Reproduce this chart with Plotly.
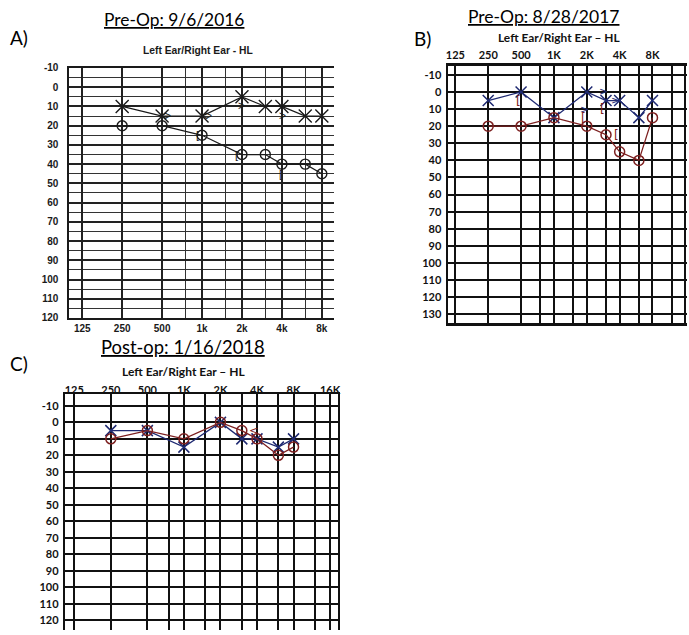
import math
import plotly.graph_objects as go

# ---------------- data ----------------
# test frequencies (Hz)
freqs = [250, 500, 1000, 2000, 3000, 4000, 6000, 8000]

# A) Pre-Op 9/6/2016 (dB HL)
a_right_air = [20, 20, 25, 35, 35, 40, 40, 45]
a_left_air = [10, 15, 15, 5, 10, 10, 15, 15]
a_left_bone_f = [500, 1000, 2000, 4000]
a_left_bone = [15, 15, 10, 15]
a_right_bone_f = [500, 1000]
a_right_bone = [15, 15]
a_right_bone_m_f = [1000, 2000, 4000]
a_right_bone_m = [25, 35, 45]

# B) Pre-Op 8/28/2017 (dB HL)
b_left_air = [5, 0, 15, 0, 5, 5, 15, 5]
b_right_air = [20, 20, 15, 20, 25, 35, 40, 15]
b_right_bone_m_f = [500, 2000, 3000, 4000]
b_right_bone_m = [5, 15, 10, 25]
b_left_bone_f = [2000, 3000, 4000]
b_left_bone = [10, 0, 5]

# C) Post-op 1/16/2018 (dB HL)
c_left_air = [5, 5, 15, 0, 10, 10, 15, 10]
c_right_air = [10, 5, 10, 0, 5, 10, 20, 15]
c_right_bone_f = [4000]
c_right_bone = [5]

# axis ticks
a_tick_f = [125, 250, 500, 1000, 2000, 4000, 8000]
a_tick_txt = ["125", "250", "500", "1k", "2k", "4k", "8k"]
a_mid_f = [750, 1500, 3000, 6000]
bc_tick_f = [125, 250, 500, 1000, 2000, 4000, 8000, 16000]
bc_tick_txt = ["125", "250", "500", "1K", "2K", "4K", "8K", "16K"]
bc_mid_f = [750, 1500, 3000, 6000, 12000]
a_db_ticks = list(range(-10, 121, 10))
b_db_ticks = list(range(-10, 131, 10))
c_db_ticks = list(range(-10, 121, 10))

# ---------------- style ----------------
W, H = 689, 635
BLUE = "#1f2a72"
RED = "#7d2020"
INK_A = "#1a1a1a"
CAL = "Lato, Open Sans, sans-serif"


def dom_x(left, right):
    return [left / W, right / W]


def dom_y(top, bottom):
    return [1 - bottom / H, 1 - top / H]


fig = go.Figure()


def air(x, y, color, sym, size, ax, lw):
    fig.add_trace(go.Scatter(
        x=x, y=y, mode="lines+markers", xaxis=ax[0], yaxis=ax[1],
        line=dict(color=color, width=lw),
        marker=dict(symbol=sym, size=size, color=color,
                    line=dict(color=color, width=lw + 0.2)),
        showlegend=False, hoverinfo="x+y"))


def bone(fs, dbs, glyph_txt, color, ax, shifts, size, family):
    # bone-conduction symbols drawn as text glyphs at (freq, dB)
    for f, db, dx in zip(fs, dbs, shifts):
        fig.add_annotation(x=math.log10(f), y=db, xref=ax[0], yref=ax[1],
                           text=glyph_txt, showarrow=False, xshift=dx,
                           xanchor="center", yanchor="middle",
                           font=dict(color=color, size=size, family=family))


# panel A
axA = ("x", "y")
air(freqs, a_left_air, INK_A, "x-thin-open", 13, axA, 1.2)
air(freqs, a_right_air, INK_A, "circle-open", 10, axA, 1.2)
bone(a_right_bone_f, a_right_bone, "<", INK_A, axA, [1, 2], 12, "Liberation Sans")
bone(a_left_bone_f, a_left_bone, ">", INK_A, axA, [5, 6, 0, 1], 12, "Liberation Sans")
bone(a_right_bone_m_f, a_right_bone_m, "[", INK_A, axA, [-5, -5, -1], 11, "Liberation Sans")

# panel B
axB = ("x2", "y2")
air(freqs, b_left_air, BLUE, "x-thin-open", 11, axB, 1.3)
air(freqs, b_right_air, RED, "circle-open", 10, axB, 1.3)
bone(b_right_bone_m_f, b_right_bone_m, "[", RED, axB, [-3, -3, -4, -3], 12, "DejaVu Sans")
bone(b_left_bone_f, b_left_bone, ">", BLUE, axB, [-2, -3, -4], 11, "DejaVu Sans")

# panel C
axC = ("x3", "y3")
air(freqs, c_left_air, BLUE, "x-thin-open", 11, axC, 1.3)
air(freqs, c_right_air, RED, "circle-open", 10, axC, 1.3)
bone(c_right_bone_f, c_right_bone, "<", RED, axC, [-3], 11, "DejaVu Sans")

A_TICK = dict(family="Liberation Sans, Arial", size=10, color="#1a1a1a", weight="bold")
BC_TICK = dict(family=CAL, size=11, color="#111", weight="bold")

fig.update_layout(
    width=W, height=H, margin=dict(l=0, r=0, t=0, b=0),
    paper_bgcolor="white", plot_bgcolor="white", showlegend=False,
    # ---- A ----
    xaxis=dict(domain=dom_x(67.7, 333.5), type="log", range=[1.9995, 3.9915],
               tickvals=a_tick_f, ticktext=a_tick_txt, side="bottom",
               showgrid=True, gridcolor="#222", gridwidth=1.6,
               minor=dict(tickvals=a_mid_f, showgrid=True, gridcolor="#333", gridwidth=1.2),
               showline=True, linecolor="#1a1a1a", linewidth=1.8, mirror=True,
               ticks="", tickfont=A_TICK, ticklabelstandoff=0,
               zeroline=False, fixedrange=True, anchor="y"),
    yaxis=dict(domain=dom_y(64, 318), range=[120, -10],
               tickvals=a_db_ticks, ticktext=[str(v) for v in a_db_ticks],
               showgrid=True, gridcolor="#222", gridwidth=1.6,
               minor=dict(dtick=5, tick0=0, showgrid=True, gridcolor="#333", gridwidth=1.2),
               showline=True, linecolor="#1a1a1a", linewidth=1.8, mirror=False,
               ticks="", tickfont=A_TICK, ticklabelstandoff=7,
               zeroline=False, fixedrange=True, anchor="x"),
    # ---- B ----
    xaxis2=dict(domain=dom_x(448.3, 689), type="log", range=[2.02678, 4.21915],
                tickvals=bc_tick_f, ticktext=bc_tick_txt, side="top",
                showgrid=True, gridcolor="#111", gridwidth=2,
                minor=dict(tickvals=bc_mid_f, showgrid=True, gridcolor="#111", gridwidth=2),
                showline=True, linecolor="#111", linewidth=2.6, mirror=True,
                ticks="", tickfont=BC_TICK, ticklabelstandoff=0,
                zeroline=False, fixedrange=True, anchor="y2"),
    yaxis2=dict(domain=dom_y(61.7, 323.3), range=[135.2, -15.35],
                tickvals=b_db_ticks, ticktext=[str(v) for v in b_db_ticks],
                showgrid=True, gridcolor="#111", gridwidth=2,
                showline=True, linecolor="#111", linewidth=2.4, mirror=False,
                ticks="", tickfont=BC_TICK, ticklabelstandoff=2,
                zeroline=False, fixedrange=True, anchor="x2"),
    # ---- C ----
    xaxis3=dict(domain=dom_x(63.3, 338.3), type="log", range=[2.01992, 4.27217],
                tickvals=bc_tick_f, ticktext=bc_tick_txt, side="top",
                showgrid=True, gridcolor="#111", gridwidth=2,
                minor=dict(tickvals=bc_mid_f, showgrid=True, gridcolor="#111", gridwidth=2),
                showline=True, linecolor="#111", linewidth=2.4, mirror=False,
                ticks="", tickfont=BC_TICK, ticklabelstandoff=-6,
                zeroline=False, fixedrange=True, anchor="y3"),
    yaxis3=dict(domain=dom_y(395.7, 635), range=[125.97, -16.93],
                tickvals=c_db_ticks, ticktext=[str(v) for v in c_db_ticks],
                showgrid=True, gridcolor="#111", gridwidth=2,
                showline=True, linecolor="#111", linewidth=2.4, mirror=True,
                ticks="", tickfont=BC_TICK, ticklabelstandoff=2,
                zeroline=False, fixedrange=True, anchor="x3"),
)


def label(px, py, text, size, family, color="#000", weight="normal", xanchor="center"):
    fig.add_annotation(x=px / W, y=1 - py / H, xref="paper", yref="paper",
                       text=text, showarrow=False, xanchor=xanchor, yanchor="middle",
                       font=dict(size=size, family=family, color=color, weight=weight))


# panel letters
label(6, 33, "A)", 19, CAL, xanchor="left")
label(412, 34, "B)", 19, CAL, xanchor="left")
label(6, 364, "C)", 19, CAL, xanchor="left")

# session headings
label(173, 15, "<u>Pre-Op: 9/6/2016</u>", 17.4, CAL)
label(545, 12, "<u>Pre-Op: 8/28/2017</u>", 17.5, CAL)
label(182, 347, "<u>Post-op: 1/16/2018</u>", 18.4, CAL)

# chart titles
label(197, 46, "Left Ear/Right Ear - HL", 10.3, "Liberation Sans, Arial", color="#1a1a1a", weight="bold")
label(560, 33, "Left Ear/Right Ear \u2013 HL", 11.9, CAL, color="#111", weight="bold")
label(183, 372, "Left Ear/Right Ear \u2013 HL", 12, CAL, color="#111", weight="bold")

fig.write_html("out.html")
